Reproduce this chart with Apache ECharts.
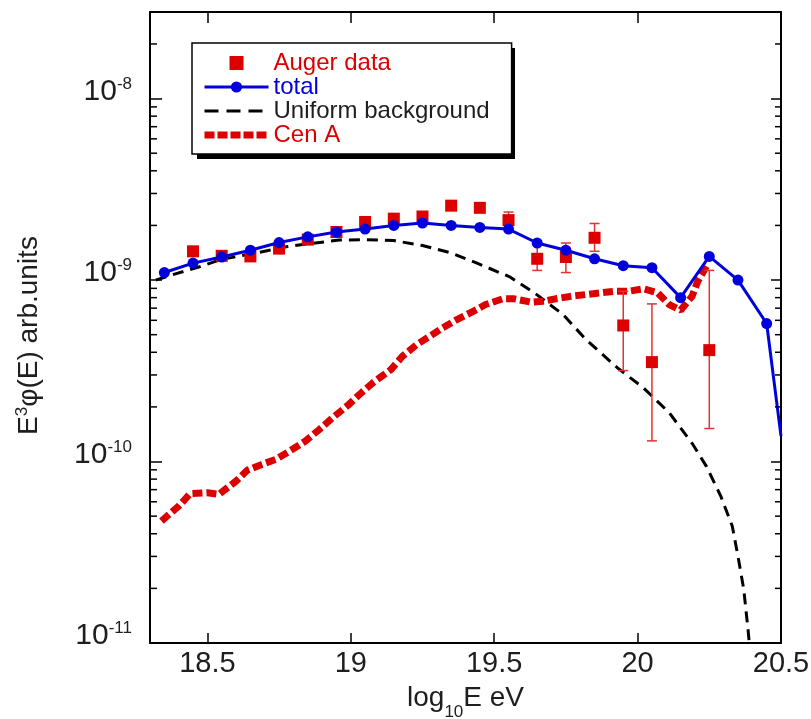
<!DOCTYPE html>
<html><head><meta charset="utf-8">
<script src="https://cdn.jsdelivr.net/npm/echarts@6/dist/echarts.min.js"></script>
<style>html,body{margin:0;padding:0;background:#fff}#c{width:811px;height:719px}</style>
</head><body><div id="c"></div><script>
// ---- axis ticks ----
const xTicks = [18.5, 19, 19.5, 20, 20.5];
const yTicks = [1e-11, 1e-10, 1e-9, 1e-8];

// ---- total (blue) ----
const totalE = [18.35,18.45,18.55,18.65,18.75,18.85,18.95,19.05,19.15,19.25,19.35,19.45,19.55,19.65,19.75,19.85,19.95,20.05,20.15,20.25,20.35,20.45,20.5];
const totalFlux = [1.10e-9,1.24e-9,1.34e-9,1.46e-9,1.61e-9,1.73e-9,1.84e-9,1.91e-9,2.00e-9,2.06e-9,2.00e-9,1.95e-9,1.91e-9,1.60e-9,1.46e-9,1.31e-9,1.20e-9,1.17e-9,8.0e-10,1.35e-9,1.0e-9,5.76e-10,1.38e-10];

// ---- Auger data ----
const augerE = [18.45,18.55,18.65,18.75,18.85,18.95,19.05,19.15,19.25,19.35,19.45,19.55,19.65,19.75,19.85,19.95,20.05,20.25];
const augerFlux = [1.44e-9,1.36e-9,1.35e-9,1.49e-9,1.67e-9,1.84e-9,2.09e-9,2.18e-9,2.24e-9,2.57e-9,2.50e-9,2.14e-9,1.31e-9,1.34e-9,1.71e-9,5.62e-10,3.53e-10,4.11e-10];
const augerErrLow = [null,null,null,null,null,null,null,null,null,null,null,1.93e-9,1.13e-9,1.10e-9,1.44e-9,3.17e-10,1.30e-10,1.52e-10];
const augerErrHigh = [null,null,null,null,null,null,null,null,null,null,null,2.37e-9,1.60e-9,1.60e-9,2.05e-9,8.68e-10,7.39e-10,1.13e-9];

// ---- Uniform background ----
const bgE = [18.32,18.37,18.47,18.55,18.66,18.78,18.86,18.96,19.05,19.15,19.25,19.35,19.44,19.555,19.64,19.74,19.82,19.93,20.02,20.11,20.19,20.24,20.29,20.33,20.35,20.37,20.385,20.395];
const bgFlux = [1.00e-9,1.06e-9,1.18e-9,1.30e-9,1.40e-9,1.53e-9,1.59e-9,1.66e-9,1.67e-9,1.65e-9,1.55e-9,1.41e-9,1.24e-9,1.04e-9,8.5e-10,6.46e-10,4.70e-10,3.28e-10,2.55e-10,1.86e-10,1.26e-10,9.4e-11,6.45e-11,4.41e-11,3.01e-11,1.98e-11,1.19e-11,8e-12];

// ---- Cen A ----
const cenE = [18.34,18.40,18.44,18.50,18.54,18.60,18.64,18.69,18.74,18.79,18.84,18.89,18.94,18.99,19.03,19.08,19.14,19.18,19.23,19.28,19.32,19.37,19.43,19.47,19.53,19.57,19.63,19.67,19.72,19.77,19.82,19.87,19.92,19.97,20.02,20.07,20.11,20.15,20.19,20.21,20.24];
const cenFlux = [4.70e-11,5.68e-11,6.65e-11,6.73e-11,6.59e-11,7.80e-11,8.97e-11,9.64e-11,1.03e-10,1.15e-10,1.29e-10,1.50e-10,1.76e-10,2.04e-10,2.34e-10,2.74e-10,3.21e-10,3.80e-10,4.41e-10,4.95e-10,5.45e-10,6.06e-10,6.76e-10,7.33e-10,7.88e-10,7.88e-10,7.55e-10,7.64e-10,7.91e-10,8.14e-10,8.32e-10,8.50e-10,8.68e-10,8.68e-10,8.95e-10,8.50e-10,7.33e-10,6.82e-10,8.15e-10,9.85e-10,1.19e-9];

const X_MIN = 18.3, X_MAX = 20.5, Y_MIN = 1e-11, Y_MAX = 3e-8;
const RED = '#dd0000', BLUE = '#0000dd', TXT = '#1e1e1e';
const FONT = '"Liberation Sans", Arial, Helvetica, sans-serif';

// minor tick values of the log axis (2..9 x 10^k)
const minorY = [];
for (let e = -11; e <= -8; e++) for (let k = 2; k <= 9; k++) { const v = k * Math.pow(10, e); if (v < Y_MAX * 0.999) minorY.push(v); }

const chart = echarts.init(document.getElementById('c'), null, {renderer: 'canvas'});

const errData = [];
augerE.forEach((x, i) => { if (augerErrLow[i] != null) errData.push([x, augerErrLow[i], augerErrHigh[i]]); });

const totalData = totalE.map((x, i) => i === totalE.length - 1 ? {value: [x, totalFlux[i]], symbol: 'none'} : [x, totalFlux[i]]);

const option = {
  animation: false,
  backgroundColor: '#fff',
  textStyle: {fontFamily: FONT},
  grid: {left: 150, right: 30, top: 12, bottom: 76, containLabel: false, outerBoundsMode: 'none'},
  graphic: [{
    type: 'rect', left: 197, top: 48, z: 1, silent: true,
    shape: {width: 318, height: 111}, style: {fill: '#000'}
  }],
  legend: {
    orient: 'vertical', left: 192, top: 43, z: 5,
    padding: [8, 22, 7, 9],
    itemWidth: 64, itemHeight: 14, itemGap: 0,
    backgroundColor: '#fff', borderColor: '#000', borderWidth: 1.5, borderRadius: 0,
    textStyle: {fontSize: 24, lineHeight: 24, fontFamily: FONT},
    selectedMode: false,
    data: [
      {name: 'Auger data', textStyle: {color: RED}},
      {name: 'total', textStyle: {color: BLUE}, lineStyle: {width: 3}},
      {name: 'Uniform background', textStyle: {color: TXT}, itemStyle: {opacity: 0}, lineStyle: {width: 3, type: [14, 8]}},
      {name: 'Cen A', textStyle: {color: RED}, itemStyle: {opacity: 0}, lineStyle: {width: 7, type: [10, 3]}}
    ]
  },
  xAxis: [{
    type: 'value', min: X_MIN, max: X_MAX, position: 'bottom',
    axisLine: {show: true, lineStyle: {color: '#000', width: 2}},
    axisTick: {show: true, inside: true, length: 10, lineStyle: {color: '#000', width: 1.5}, customValues: xTicks},
    axisLabel: {show: true, customValues: xTicks, margin: 6, fontSize: 29, color: TXT, fontFamily: FONT, formatter: v => String(v)},
    splitLine: {show: false},
    name: '{a|log}{s|10}{a|E eV}', nameLocation: 'middle', nameGap: 40,
    nameTextStyle: {rich: {a: {fontSize: 28, color: TXT, fontFamily: FONT, lineHeight: 30}, s: {fontSize: 17, color: TXT, fontFamily: FONT, verticalAlign: 'bottom', lineHeight: 30, padding: [0, 0, -8, 0]}}}
  }, {
    type: 'value', min: X_MIN, max: X_MAX, position: 'top',
    axisLine: {show: true, lineStyle: {color: '#000', width: 2}},
    axisTick: {show: true, inside: true, length: 11, lineStyle: {color: '#000', width: 1.5}, customValues: xTicks},
    axisLabel: {show: false}, splitLine: {show: false}
  }],
  yAxis: [{
    type: 'log', logBase: 10, min: Y_MIN, max: Y_MAX, position: 'left',
    axisLine: {show: true, lineStyle: {color: '#000', width: 2}},
    axisTick: {show: true, inside: true, length: 12, lineStyle: {color: '#000', width: 1.5}, customValues: yTicks},
    axisLabel: {show: true, customValues: yTicks, margin: 18, padding: [0, 0, 14, 0],
      formatter: v => '{a|10}{b|' + Math.round(Math.log10(v)) + '}',
      rich: {a: {fontSize: 30, color: TXT, fontFamily: FONT, lineHeight: 32}, b: {fontSize: 17, color: TXT, fontFamily: FONT, verticalAlign: 'top', lineHeight: 17}}},
    splitLine: {show: false}, minorTick: {show: false},
    name: '{a|E}{s|3}{a|φ(E) arb.units}', nameLocation: 'middle', nameGap: 106,
    nameTextStyle: {padding: [0, 16, 0, 0], rich: {a: {fontSize: 28, color: TXT, fontFamily: FONT, lineHeight: 30}, s: {fontSize: 17, color: TXT, fontFamily: FONT, verticalAlign: 'top', lineHeight: 17}}}
  }, {
    type: 'log', logBase: 10, min: Y_MIN, max: Y_MAX, position: 'right',
    axisLine: {show: true, lineStyle: {color: '#000', width: 2}},
    axisTick: {show: true, inside: true, length: 10, lineStyle: {color: '#000', width: 1.5}, customValues: yTicks},
    axisLabel: {show: false}, splitLine: {show: false}
  }],
  series: [
    {
      name: 'Uniform background', type: 'line', xAxisIndex: 0, yAxisIndex: 0,
      data: bgE.map((x, i) => [x, bgFlux[i]]), symbol: 'none', showSymbol: false,
      lineStyle: {color: '#000', width: 3, type: [11, 7]}, itemStyle: {color: '#000'}, z: 2
    },
    {
      name: 'Cen A', type: 'line', xAxisIndex: 0, yAxisIndex: 0,
      data: cenE.map((x, i) => [x, cenFlux[i]]), symbol: 'none', showSymbol: false,
      lineStyle: {color: RED, width: 7, type: [10, 4], cap: 'butt'}, itemStyle: {color: RED}, z: 3
    },
    {
      name: 'errbars', type: 'custom', xAxisIndex: 0, yAxisIndex: 0, data: errData,
      encode: {x: 0, y: [1, 2]}, z: 4, silent: true,
      renderItem: (params, api) => {
        const x = api.value(0), lo = api.value(1), hi = api.value(2);
        const p1 = api.coord([x, hi]), p2 = api.coord([x, lo]);
        const w = 5, st = {stroke: '#e03333', lineWidth: 1.5};
        return {type: 'group', children: [
          {type: 'line', shape: {x1: p1[0], y1: p1[1], x2: p2[0], y2: p2[1]}, style: st},
          {type: 'line', shape: {x1: p1[0] - w, y1: p1[1], x2: p1[0] + w, y2: p1[1]}, style: st},
          {type: 'line', shape: {x1: p2[0] - w, y1: p2[1], x2: p2[0] + w, y2: p2[1]}, style: st}
        ]};
      }
    },
    {
      name: 'Auger data', type: 'scatter', xAxisIndex: 0, yAxisIndex: 0,
      data: augerE.map((x, i) => [x, augerFlux[i]]),
      symbol: 'path://M0 0H10V10H0Z', symbolKeepAspect: true, symbolSize: 12,
      itemStyle: {color: RED, opacity: 1}, z: 5
    },
    {
      name: 'total', type: 'line', xAxisIndex: 0, yAxisIndex: 0,
      data: totalData, symbol: 'circle', symbolSize: 11, showSymbol: true,
      lineStyle: {color: BLUE, width: 3}, itemStyle: {color: BLUE}, z: 6
    },
    {
      name: 'minorTicks', type: 'custom', xAxisIndex: 0, yAxisIndex: 0,
      data: minorY.map(v => [X_MIN, v]), encode: {x: 0, y: 1}, silent: true, z: 10,
      renderItem: (params, api) => {
        const cs = params.coordSys;
        const y = api.coord([X_MIN, api.value(1)])[1];
        const st = {stroke: '#000', lineWidth: 1.5};
        return {type: 'group', children: [
          {type: 'line', shape: {x1: cs.x, y1: y, x2: cs.x + 7, y2: y}, style: st},
          {type: 'line', shape: {x1: cs.x + cs.width - 6, y1: y, x2: cs.x + cs.width, y2: y}, style: st}
        ]};
      }
    }
  ]
};
chart.setOption(option);
</script></body></html>
